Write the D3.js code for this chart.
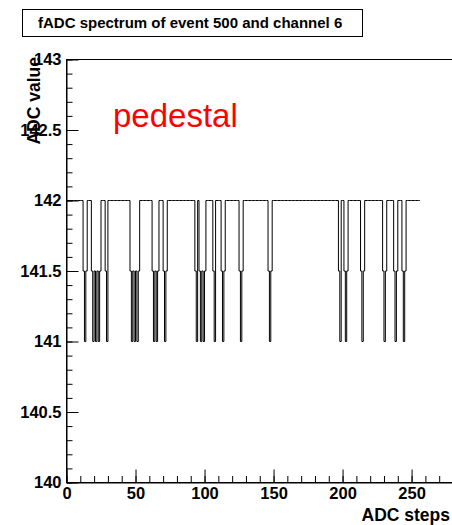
<!DOCTYPE html>
<html>
<head>
<meta charset="utf-8">
<script src="https://cdn.jsdelivr.net/npm/d3@7"></script>
<style>
  body { margin: 0; background: #fff; }
  svg { display: block; font-family: "Liberation Sans", Arial, Helvetica, sans-serif; }
  .tick text { font-weight: bold; font-size: 16.5px; fill: #000; }
</style>
</head>
<body>
<div id="chart"></div>
<script>
// fADC readout, event 500 / channel 6 - 256 samples
const nSamples = 256;
const pedestal = 142;
// samples read at 141
const lowSamples = [13, 19, 21, 23, 29, 47, 49, 51, 63, 65, 71, 94, 97, 99, 107, 113, 126, 147, 198, 202, 214, 230, 238, 244];
// samples read at 141.5 (shoulders of the dips)
const halfSamples = [12, 14, 18, 20, 22, 24, 28, 46, 48, 50, 52, 62, 64, 66, 70, 72, 93, 96, 98, 100, 106, 112, 114, 125, 127, 146, 148, 197, 201, 203, 213, 215, 229, 231, 237, 239, 243, 245];

const xMajorTicks = [0, 50, 100, 150, 200, 250];
const yMajorTicks = [140, 140.5, 141, 141.5, 142, 142.5, 143];

const titleText = 'fADC spectrum of event 500 and channel 6';
const xLabel = 'ADC steps';
const yLabel = 'ADC value';

const width = 452, height = 525;

const svg = d3.select('#chart').append('svg')
    .attr('width', width)
    .attr('height', height);

svg.append('rect').attr('width', width).attr('height', height).attr('fill', '#fff');

const x = d3.scaleLinear().domain([0, 280]).range([66.5, 453]);
const y = d3.scaleLinear().domain([140, 143]).range([482.5, 59.5]);

// frame
svg.append('rect')
    .attr('x', x(0)).attr('y', y(143))
    .attr('width', x(280) - x(0)).attr('height', y(140) - y(143))
    .attr('fill', 'none').attr('stroke', '#000').attr('stroke-width', 1);

// histogram values
const values = d3.range(nSamples).map(i =>
    lowSamples.includes(i) ? 141 : halfSamples.includes(i) ? 141.5 : pedestal);

const pts = values.map((v, i) => [i, v]);
pts.push([nSamples, values[nSamples - 1]]);

const line = d3.line()
    .x(d => x(d[0]))
    .y(d => y(d[1]))
    .curve(d3.curveStepAfter);

svg.append('path')
    .datum(pts)
    .attr('d', line)
    .attr('fill', 'none')
    .attr('stroke', '#000')
    .attr('stroke-width', 1);

// y axis: minor then major, ticks inside
svg.append('g')
    .attr('transform', `translate(${x(0)},0)`)
    .call(d3.axisLeft(y).tickValues(d3.range(140, 143.001, 0.1)).tickSizeInner(-6).tickSizeOuter(0).tickFormat(''))
    .call(g => g.select('.domain').attr('stroke', '#000'));

svg.append('g')
    .attr('transform', `translate(${x(0)},0)`)
    .call(d3.axisLeft(y).tickValues(yMajorTicks).tickSizeInner(-12).tickSizeOuter(0).tickPadding(5)
        .tickFormat(d => String(d)))
    .call(g => g.select('.domain').remove());

// x axis
svg.append('g')
    .attr('transform', `translate(0,${y(140)})`)
    .call(d3.axisBottom(x).tickValues(d3.range(0, 281, 10)).tickSizeInner(-6.5).tickSizeOuter(0).tickFormat(''))
    .call(g => g.select('.domain').attr('stroke', '#000'));

svg.append('g')
    .attr('transform', `translate(0,${y(140)})`)
    .call(d3.axisBottom(x).tickValues(xMajorTicks).tickSizeInner(-13).tickSizeOuter(0).tickPadding(5))
    .call(g => g.select('.domain').remove());

// axis titles
svg.append('text')
    .attr('x', 450).attr('y', 521)
    .attr('text-anchor', 'end')
    .attr('font-weight', 'bold').attr('font-size', 17.5)
    .text(xLabel);

svg.append('text')
    .attr('transform', 'translate(40,57) rotate(-90)')
    .attr('text-anchor', 'end')
    .attr('font-weight', 'bold').attr('font-size', 17.5)
    .text(yLabel);

// title box
svg.append('rect')
    .attr('x', 22.5).attr('y', 9.5).attr('width', 340).attr('height', 27)
    .attr('fill', '#fff').attr('stroke', '#000').attr('stroke-width', 1);

svg.append('text')
    .attr('x', 38).attr('y', 27.5)
    .attr('font-weight', 'bold').attr('font-size', 15)
    .text(titleText);

// annotation
svg.append('text')
    .attr('x', 113).attr('y', 127)
    .attr('font-size', 33).attr('fill', '#ff0000')
    .text('pedestal');
</script>
</body>
</html>
